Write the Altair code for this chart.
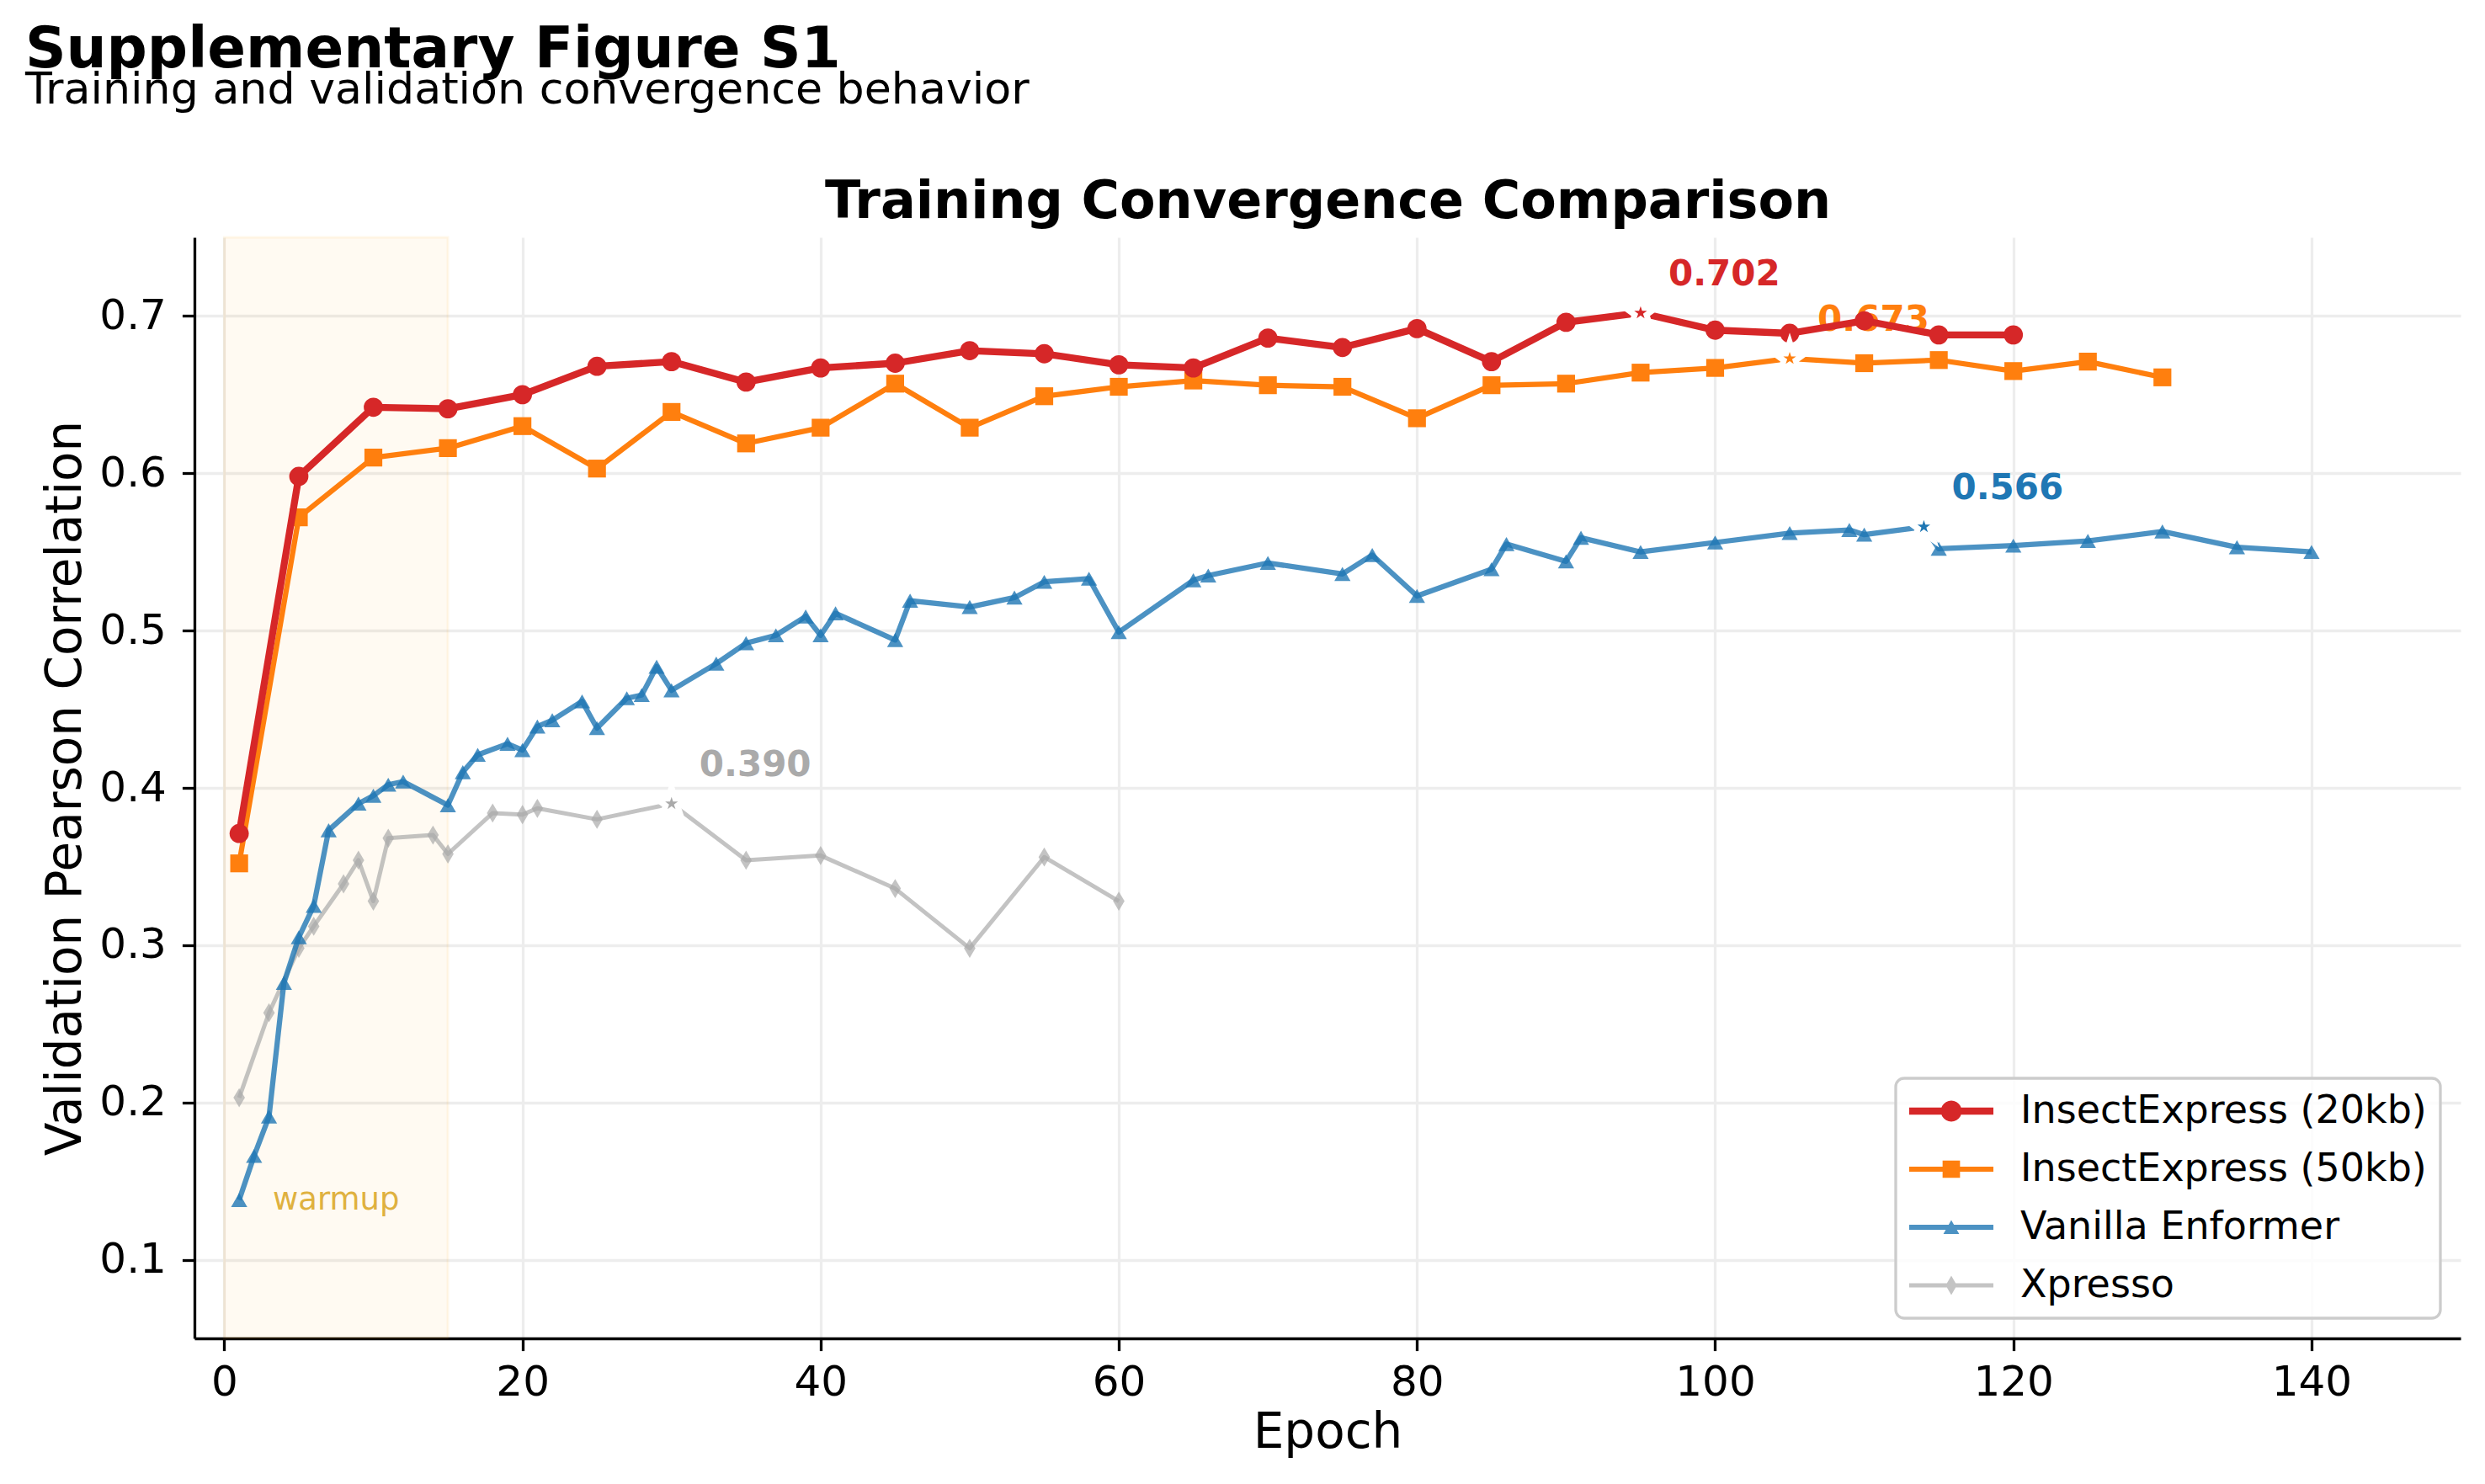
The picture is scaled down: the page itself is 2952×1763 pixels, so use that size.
import math
import altair as alt
import pandas as pd

FONT = "DejaVu Sans"

# ---------------- data ----------------
series_names = ["InsectExpress (20kb)", "InsectExpress (50kb)", "Vanilla Enformer", "Xpresso"]
series_colors = ["#d62728", "#ff7f0e", "#1f77b4", "#aaaaaa"]
legend_colors = ["#d62728", "#ff7f0e", "#4c92c3", "#c4c4c4"]

epochs_20kb = [1, 5, 10, 15, 20, 25, 30, 35, 40, 45, 50, 55, 60, 65, 70, 75, 80, 85, 90, 95,
               100, 105, 110, 115, 120]
vals_20kb = [0.371, 0.598, 0.642, 0.641, 0.650, 0.668, 0.671, 0.658, 0.667, 0.670, 0.678, 0.676,
             0.669, 0.667, 0.686, 0.680, 0.692, 0.671, 0.696, 0.702, 0.691, 0.689, 0.697, 0.688, 0.688]

epochs_50kb = [1, 5, 10, 15, 20, 25, 30, 35, 40, 45, 50, 55, 60, 65, 70, 75, 80, 85, 90, 95,
               100, 105, 110, 115, 120, 125, 130]
vals_50kb = [0.352, 0.572, 0.610, 0.616, 0.630, 0.603, 0.639, 0.619, 0.629, 0.657, 0.629, 0.649,
             0.655, 0.659, 0.656, 0.655, 0.635, 0.656, 0.657, 0.664, 0.667, 0.673, 0.670, 0.672,
             0.665, 0.671, 0.661]

epochs_enf = [1, 2, 3, 4, 5, 6, 7, 9, 10, 11, 12, 15, 16, 17, 19, 20, 21, 22, 24, 25, 27, 28, 29,
              30, 33, 35, 37, 39, 40, 41, 45, 46, 50, 53, 55, 58, 60, 65, 66, 70, 75, 77, 80, 85,
              86, 90, 91, 95, 100, 105, 109, 110, 114, 115, 120, 125, 130, 135, 140]
vals_enf = [0.138, 0.166, 0.191, 0.276, 0.305, 0.325, 0.373, 0.390, 0.395, 0.402, 0.404, 0.389,
            0.410, 0.421, 0.428, 0.424, 0.439, 0.443, 0.455, 0.438, 0.457, 0.459, 0.477, 0.462,
            0.479, 0.492, 0.497, 0.509, 0.497, 0.511, 0.494, 0.519, 0.515, 0.521, 0.531, 0.533,
            0.499, 0.532, 0.535, 0.543, 0.536, 0.548, 0.522, 0.539, 0.555, 0.544, 0.559, 0.550,
            0.556, 0.562, 0.564, 0.561, 0.566, 0.552, 0.554, 0.557, 0.563, 0.553, 0.550]

epochs_xp = [1, 3, 5, 6, 8, 9, 10, 11, 14, 15, 18, 20, 21, 25, 30, 35, 40, 45, 50, 55, 60]
vals_xp = [0.203, 0.257, 0.298, 0.312, 0.339, 0.354, 0.328, 0.368, 0.370, 0.358, 0.384, 0.383,
           0.387, 0.380, 0.390, 0.354, 0.357, 0.336, 0.298, 0.356, 0.328]

best_epochs = [95, 105, 114, 30]
best_values = [0.702, 0.673, 0.566, 0.390]
best_labels = ["0.702", "0.673", "0.566", "0.390"]

warmup_start = [0]
warmup_end = [15]
warmup_text = ["warmup"]
warmup_text_x = [7.5]
warmup_text_y = [0.13]

x_ticks = [0, 20, 40, 60, 80, 100, 120, 140]
y_ticks = [0.1, 0.2, 0.3, 0.4, 0.5, 0.6, 0.7]
x_domain = [-2, 150]
y_domain = [0.05, 0.75]

# ---------------- styles ----------------
line_widths = [8.3, 6.25, 6.25, 5.0]
line_opacity = [1.0, 1.0, 0.8, 0.7]
marker_shapes = ["circle", "square", "triangle-up", "M0,-1L0.6,0L0,1L-0.6,0Z"]
marker_sizes = [520, 450, 370, 520]


def poly_path(radii, n, rot=-math.pi / 2):
    pts = []
    for k in range(n):
        a = rot + 2 * math.pi * k / n
        r = radii[k % len(radii)]
        pts.append("%.3f,%.3f" % (r * math.cos(a) + 0.0, r * math.sin(a) + 0.0))
    return "M" + "L".join(pts) + "Z"


STAR = poly_path([1.0, 0.382], 10)


def bar(h):
    return "M-2.174,-%.3fL2.174,-%.3fL2.174,%.3fL-2.174,%.3fZ" % (h, h, h, h)


legend_paths = [
    bar(0.18) + poly_path([0.54], 24),
    bar(0.135) + "M-0.45,-0.45L0.45,-0.45L0.45,0.45L-0.45,0.45Z",
    bar(0.135) + "M0,-0.37L0.41,0.35L-0.41,0.35Z",
    bar(0.11) + "M0,-0.5L0.29,0L0,0.5L-0.29,0Z",
]

all_epochs = [epochs_20kb, epochs_50kb, epochs_enf, epochs_xp]
all_vals = [vals_20kb, vals_50kb, vals_enf, vals_xp]

frames = []
for name, ep, val, be in zip(series_names, all_epochs, all_vals, best_epochs):
    f = pd.DataFrame({"series": name, "epoch": ep, "value": val})
    f["is_best"] = f["epoch"] == be
    frames.append(f)
df = pd.concat(frames, ignore_index=True)

best_df = pd.DataFrame({"series": series_names, "epoch": best_epochs,
                        "value": best_values, "label": best_labels})

warm_df = pd.DataFrame({"start": warmup_start, "end": warmup_end,
                        "lo": [y_domain[0]], "hi": [y_domain[1]]})
warm_text_df = pd.DataFrame({"epoch": warmup_text_x, "value": warmup_text_y, "label": warmup_text})

W, H = 2692, 1308

x_scale = alt.Scale(domain=x_domain, nice=False, zero=False)
y_scale = alt.Scale(domain=y_domain, nice=False, zero=False)
x_axis = alt.Axis(values=x_ticks, format="d", title="Epoch", orient="bottom")
y_axis = alt.Axis(values=y_ticks, format=".1f", title="Validation Pearson Correlation")


def X(field):
    return alt.X(field, scale=x_scale, axis=x_axis)


def Y(field):
    return alt.Y(field, scale=y_scale, axis=y_axis)


layers = []

layers.append(
    alt.Chart(warm_df).mark_rect(color="#ffa500", fillOpacity=0.05, stroke="#ffa500",
                                  strokeOpacity=0.08, strokeWidth=3)
    .encode(x=X("start:Q"), x2="end:Q", y=Y("lo:Q"), y2="hi:Q")
)
layers.append(
    alt.Chart(warm_text_df).mark_text(align="center", baseline="alphabetic", dy=-4,
                                      fontSize=37, font=FONT, color="#daa520", opacity=0.85)
    .encode(x=X("epoch:Q"), y=Y("value:Q"), text="label:N")
)

for i in range(4):
    layers.append(
        alt.Chart(best_df[best_df["series"] == series_names[i]])
        .mark_text(align="left", baseline="alphabetic", dx=33, dy=-33, fontSize=42,
                   fontWeight="bold", font=FONT, color=series_colors[i])
        .encode(x=X("epoch:Q"), y=Y("value:Q"), text="label:N")
    )

for i in [3, 2, 1, 0]:
    name = series_names[i]
    sub = df[df["series"] == name]
    layers.append(
        alt.Chart(sub).mark_line(color=series_colors[i], strokeWidth=line_widths[i],
                                 opacity=line_opacity[i], strokeJoin="round")
        .encode(x=X("epoch:Q"), y=Y("value:Q"), order="epoch:Q")
    )
    layers.append(
        alt.Chart(sub[~sub["is_best"]]).mark_point(shape=marker_shapes[i], size=marker_sizes[i],
                                                   filled=True, color=series_colors[i],
                                                   opacity=line_opacity[i], strokeWidth=0)
        .encode(x=X("epoch:Q"), y=Y("value:Q"))
    )

# best epochs: star with a white halo
layers.append(
    alt.Chart(best_df).mark_point(shape=STAR, size=256, filled=True, color="white",
                                  stroke="white", strokeWidth=14, opacity=1)
    .encode(x=X("epoch:Q"), y=Y("value:Q"))
)
for i in range(4):
    layers.append(
        alt.Chart(best_df[best_df["series"] == series_names[i]])
        .mark_point(shape=STAR, size=256, filled=True, strokeWidth=0, opacity=1,
                    color=series_colors[i])
        .encode(x=X("epoch:Q"), y=Y("value:Q"))
    )

# legend driver: invisible points that carry the combined line+marker legend symbols
leg = alt.Legend(title=None, orient="bottom-right", offset=24, labelLimit=2000,
                 symbolSize=2116, symbolStrokeWidth=0, symbolOpacity=1, symbolOffset=27,
                 labelOffset=59, rowPadding=23)
layers.append(
    alt.Chart(df).mark_point(filled=True, size=2116, strokeWidth=0, opacity=0)
    .encode(x=X("epoch:Q"), y=Y("value:Q"),
            color=alt.Color("series:N", scale=alt.Scale(domain=series_names, range=legend_colors),
                            legend=leg),
            shape=alt.Shape("series:N", scale=alt.Scale(domain=series_names, range=legend_paths),
                            legend=leg))
)

data_layer = alt.layer(*layers)

# second (top) x axis used only to carry the panel title
title_layer = alt.Chart(best_df).mark_point(opacity=0).encode(
    x=alt.X("epoch:Q", scale=x_scale,
            axis=alt.Axis(orient="top", title="Training Convergence Comparison",
                          labels=False, ticks=False, domain=False, grid=False,
                          titleFontSize=62, titleFontWeight="bold", titlePadding=11)),
    y=Y("value:Q"),
)

chart = alt.layer(data_layer, title_layer).resolve_axis(x="independent").properties(
    width=W, height=H,
    title=alt.TitleParams(
        "Supplementary Figure S1",
        subtitle="Training and validation convergence behavior",
        anchor="start", frame="bounds", dx=-20,
        fontSize=67.5, fontWeight="bold", font=FONT, color="black",
        subtitleFontSize=52.2, subtitleFont=FONT, subtitleColor="black",
        subtitlePadding=-13, offset=74,
    ),
    padding={"left": 223, "top": 274, "right": 21, "bottom": 165},
    autosize=alt.AutoSizeParams(type="none"),
).configure_view(stroke=None).configure_axis(
    domainColor="black", domainWidth=3.3, tickColor="black", tickWidth=3.3, tickSize=14.6,
    labelFontSize=50, labelFont=FONT, labelColor="black",
    titleFontSize=58, titleFont=FONT, titleFontWeight="normal", titleColor="black",
    gridColor="#ededed", gridWidth=3.3,
).configure_axisX(labelPadding=13, titlePadding=6).configure_axisY(
    labelPadding=19, titlePadding=10
).configure_legend(
    padding=16, fillColor="rgba(255,255,255,0.8)", strokeColor="#cccccc", strokeWidth=3.3,
    cornerRadius=10, labelFontSize=46, labelFont=FONT, labelColor="black",
)

chart.save("out.html", embed_options={"renderer": "svg", "actions": False})
